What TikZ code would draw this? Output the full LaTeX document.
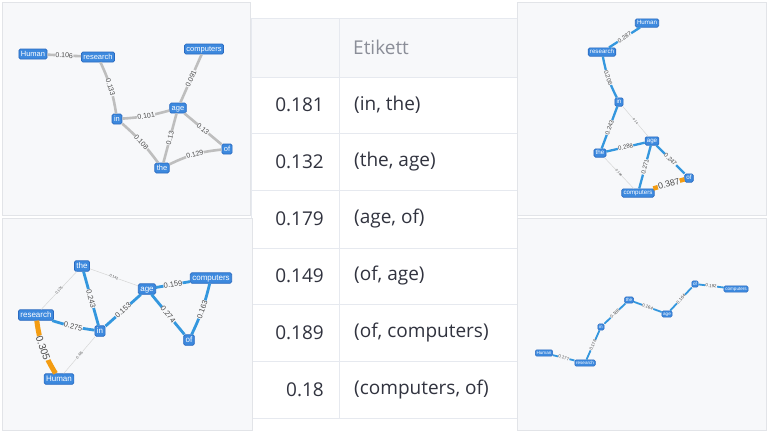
\documentclass[tikz,border=0pt]{standalone}
\usepackage{fontspec}
\setmainfont{Open Sans}
\setsansfont{Liberation Sans}
\definecolor{panelbg}{HTML}{F7F8FA}
\definecolor{panelframe}{HTML}{E2E4E8}
\definecolor{nodefill}{HTML}{3D89DE}
\definecolor{nodeline}{HTML}{2A6AC0}
\definecolor{edgeblue}{HTML}{3497DE}
\definecolor{edgegray}{HTML}{BEBEBE}
\definecolor{thingray}{HTML}{D6D6D6}
\definecolor{edgeorange}{HTML}{F39C12}
\definecolor{lblgray}{HTML}{4A4A4A}
\definecolor{rulegray}{HTML}{E6E9EF}
\definecolor{headgray}{HTML}{8B8E98}
\definecolor{bodytext}{HTML}{31333F}
\tikzset{
  panel/.style={fill=panelbg, draw=panelframe, line width=0.8pt},
  gnode/.style={draw=nodeline, fill=nodefill, text=white, rounded corners=1.5pt, line width=0.7pt, inner xsep=2pt, inner ysep=1.4pt},
  n1/.style={gnode, font=\sffamily\fontsize{7.5}{9}\selectfont, text height=5.6pt, text depth=1.6pt},
  n2/.style={gnode, font=\sffamily\fontsize{8}{9}\selectfont, text height=6pt, text depth=1.7pt},
  n3/.style={gnode, font=\sffamily\fontsize{6.2}{7}\selectfont, text height=4.6pt, text depth=1.3pt, inner xsep=1.7pt, inner ysep=1.2pt},
  n4/.style={gnode, font=\sffamily\fontsize{4.6}{5}\selectfont, text height=3.4pt, text depth=1pt, inner xsep=1.3pt, inner ysep=1pt, line width=0.5pt},
  lbl/.style={sloped, fill=panelbg, inner sep=0.3pt, text=lblgray, font=\sffamily\fontsize{#1}{#1}\selectfont},
  grayedge/.style={draw=edgegray, line width=2.6pt},
  blueedge/.style={draw=edgeblue, line width=#1},
  thinedge/.style={draw=thingray, line width=0.5pt},
  orangeedge/.style={draw=edgeorange, line width=#1},
  cell/.style={inner sep=0pt, font=\fontsize{19}{22}\selectfont, text=bodytext}
}
\begin{document}
\begin{tikzpicture}[x=1pt, y=-1pt]
\useasboundingbox (0,0) rectangle (768,432);
\fill[white] (0,0) rectangle (768,432);

% table
\fill[panelbg] (251,18) rectangle (517,77);
\foreach \y in {18,77,133,190,248,304,361,418}
  \draw[rulegray, line width=1pt] (251,\y) -- (517,\y);
\foreach \x in {251,339,517}
  \draw[rulegray, line width=1pt] (\x,18) -- (\x,418);
\node[cell, anchor=west, text=headgray] (head) at (353,47.5) {Etikett};
\node[cell, anchor=east] (v1) at (324,105) {0.181};
\node[cell, anchor=west] (t1) at (354,105) {(in, the)};
\node[cell, anchor=east] (v2) at (324,161.5) {0.132};
\node[cell, anchor=west] (t2) at (354,161.5) {(the, age)};
\node[cell, anchor=east] (v3) at (324,219) {0.179};
\node[cell, anchor=west] (t3) at (354,219) {(age, of)};
\node[cell, anchor=east] (v4) at (324,276) {0.149};
\node[cell, anchor=west] (t4) at (354,276) {(of, age)};
\node[cell, anchor=east] (v5) at (324,332.5) {0.189};
\node[cell, anchor=west] (t5) at (354,332.5) {(of, computers)};
\node[cell, anchor=east] (v6) at (324,389.5) {0.18};
\node[cell, anchor=west] (t6) at (354,389.5) {(computers, of)};

% top left
\draw[panel] (2,2) rectangle (250,215);
\node[n1] (hum1) at (33,54) {Human};
\node[n1] (res1) at (98,57) {research};
\node[n1] (com1) at (204,49) {computers};
\node[n1] (age1) at (178,108) {age};
\node[n1] (in1) at (117,119) {in};
\node[n1] (of1) at (227,149) {of};
\node[n1] (the1) at (162,168) {the};
\draw[grayedge] (hum1) -- node[lbl=7] {0.106} (res1);
\draw[grayedge] (res1) to[bend left=8] node[lbl=7] {0.133} (in1);
\draw[grayedge] (in1) to[bend right=6] node[lbl=7] {0.101} (age1);
\draw[grayedge] (in1) to[bend left=6] node[lbl=7] {0.108} (the1);
\draw[grayedge] (age1) -- node[lbl=7] {0.13} (the1);
\draw[grayedge] (age1) -- node[lbl=7] {0.13} (of1);
\draw[grayedge] (the1) to[bend left=10] node[lbl=7] {0.129} (of1);
\draw[grayedge] (com1) -- node[lbl=7] {0.091} (age1);

% bottom left
\draw[panel] (2,218) rectangle (252,430);
\node[n2] (the2) at (82,266) {the};
\node[n2] (age2) at (147,289) {age};
\node[n2] (com2) at (211,278) {computers};
\node[n2] (res2) at (36,315) {research};
\node[n2] (in2) at (100,331) {in};
\node[n2] (of2) at (189,340) {of};
\node[n2] (hum2) at (59,379) {Human};
\draw[thinedge] (res2) -- node[lbl=3.6] {0.125} (the2);
\draw[thinedge] (the2) -- node[lbl=3.6] {0.142} (age2);
\draw[thinedge] (hum2) -- node[lbl=3.6] {0.115} (in2);
\draw[blueedge=2.8pt] (the2) -- node[lbl=7.5] {0.243} (in2);
\draw[blueedge=2.8pt] (res2) to[bend right=5] node[lbl=7.5] {0.275} (in2);
\draw[blueedge=2.8pt] (in2) -- node[lbl=7.5] {0.153} (age2);
\draw[blueedge=2.8pt] (age2) -- node[lbl=7.5] {0.159} (com2);
\draw[blueedge=2.8pt] (age2) -- node[lbl=7.5] {0.274} (of2);
\draw[blueedge=2.8pt] (com2) to[bend left=6] node[lbl=7.5] {0.163} (of2);
\draw[orangeedge=5pt] (res2) to[bend right=12] node[lbl=10] {0.305} (hum2);

% top right
\draw[panel] (517,2) rectangle (766,215);
\node[n3] (hum3) at (647,23) {Human};
\node[n3] (res3) at (602,52) {research};
\node[n3] (in3) at (619,102) {in};
\node[n3] (age3) at (652,141) {age};
\node[n3] (the3) at (600,153) {the};
\node[n3] (of3) at (689,178) {of};
\node[n3] (com3) at (638,193) {computers};
\draw[thinedge] (in3) -- node[lbl=3.2] {0.14} (age3);
\draw[thinedge] (the3) -- node[lbl=3.2] {0.108} (com3);
\draw[blueedge=2.3pt] (hum3) -- node[lbl=6] {0.287} (res3);
\draw[blueedge=2.3pt] (res3) to[bend right=8] node[lbl=6] {0.206} (in3);
\draw[blueedge=2.3pt] (in3) -- node[lbl=6] {0.243} (the3);
\draw[blueedge=2.3pt] (the3) -- node[lbl=6] {0.288} (age3);
\draw[blueedge=2.3pt] (age3) -- node[lbl=6] {0.271} (com3);
\draw[blueedge=2.3pt] (age3) -- node[lbl=6] {0.247} (of3);
\draw[orangeedge=4.5pt] (com3) -- node[lbl=8.8] {0.387} (of3);

% bottom right
\draw[panel] (517,218) rectangle (766,430);
\node[n4] (hum4) at (544,353) {Human};
\node[n4] (res4) at (585,363) {research};
\node[n4] (in4) at (601,327) {in};
\node[n4] (the4) at (629,300) {the};
\node[n4] (age4) at (667,314) {age};
\node[n4] (of4) at (695,284) {of};
\node[n4] (com4) at (736,289) {computers};
\draw[blueedge=1.8pt] (hum4) -- node[lbl=4.4] {0.177} (res4);
\draw[blueedge=1.8pt] (res4) -- node[lbl=4.4] {0.176} (in4);
\draw[blueedge=1.8pt] (in4) -- node[lbl=4.4] {0.186} (the4);
\draw[blueedge=1.8pt] (the4) -- node[lbl=4.4] {0.164} (age4);
\draw[blueedge=1.8pt] (age4) -- node[lbl=4.4] {0.164} (of4);
\draw[blueedge=1.8pt] (of4) -- node[lbl=4.4] {0.192} (com4);
\end{tikzpicture}
\end{document}
